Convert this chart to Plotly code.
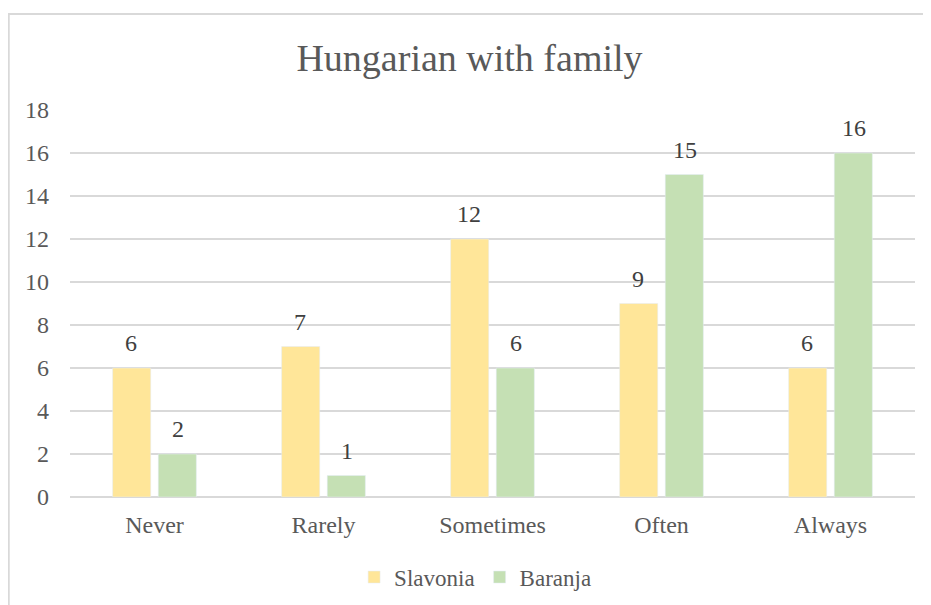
import plotly.graph_objects as go

categories = ["Never", "Rarely", "Sometimes", "Often", "Always"]
slavonia = [6, 7, 12, 9, 6]
baranja = [2, 1, 6, 15, 16]

serif = "Liberation Serif, Times New Roman, serif"

fig = go.Figure()
fig.add_trace(go.Bar(x=categories, y=slavonia, name="Slavonia",
                     marker=dict(color="#FFE699")))
fig.add_trace(go.Bar(x=categories, y=baranja, name="Baranja",
                     marker=dict(color="#C5E0B4")))

# data labels above each bar (shifted to the bar centre within the group)
for vals, dx in ((slavonia, -23.5), (baranja, 23.5)):
    for cat, v in zip(categories, vals):
        fig.add_annotation(x=cat, y=v, text=str(v), showarrow=False,
                           xshift=dx, yshift=25, yanchor="middle",
                           font=dict(family=serif, size=24, color="#404040"))

# outer chart frame (light grey), cut off on right/bottom like the reference
fig.add_shape(type="rect", xref="paper", yref="paper",
              x0=-0.0725, x1=1.2, y0=-0.4, y1=1.248,
              line=dict(color="#d9d9d9", width=2), fillcolor="rgba(0,0,0,0)",
              layer="below")

fig.update_layout(
    width=923, height=597,
    margin=dict(l=62, r=16, t=102, b=108, autoexpand=False),
    paper_bgcolor="white", plot_bgcolor="white",
    title=dict(text="Hungarian with family", x=0.5, xanchor="center",
               y=0.916, yanchor="middle",
               font=dict(family=serif, size=38, color="#595959")),
    barmode="group", bargap=0.46, bargroupgap=0.165,
    legend=dict(orientation="h", x=0.48, xanchor="center", y=-0.207, yanchor="middle",
                font=dict(family=serif, size=23, color="#595959"),
                itemwidth=30, traceorder="normal"),
    font=dict(family=serif, color="#595959"),
)
fig.update_yaxes(range=[0, 18], dtick=2, showgrid=True, gridcolor="#d9d9d9", gridwidth=1.5,
                 zeroline=True, zerolinecolor="#d9d9d9", zerolinewidth=1.5,
                 tickfont=dict(family=serif, size=24, color="#595959"),
                 ticks="", ticklabelstandoff=20, showline=False, automargin=False)
fig.update_xaxes(showgrid=False, showline=False, ticks="",
                 tickfont=dict(family=serif, size=24, color="#595959"),
                 ticklabelstandoff=11, automargin=False)

fig.write_html("out.html")
